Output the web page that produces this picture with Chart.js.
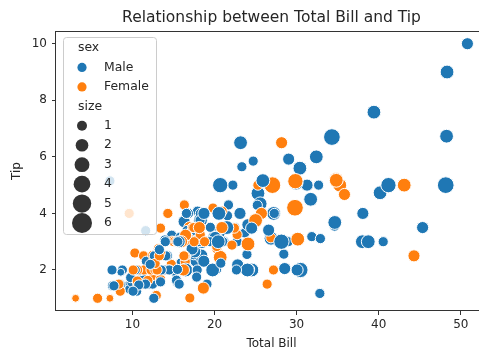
<!DOCTYPE html>
<html>
<head>
<meta charset="utf-8">
<script src="https://cdn.jsdelivr.net/npm/chart.js@4.4.0/dist/chart.umd.min.js"></script>
<style>
  html, body { margin: 0; padding: 0; background: #fff; overflow: hidden; }
  #tipsChart { display: block; }
</style>
</head>
<body>
<canvas id="tipsChart" width="500" height="352"></canvas>
<script>
// restaurant tips: one entry per table
const totalBill = [
  16.99, 10.34, 21.01, 23.68, 24.59, 25.29, 8.77, 26.88, 15.04, 14.78,
  10.27, 35.26, 15.42, 18.43, 14.83, 21.58, 10.33, 16.29, 16.97, 20.65,
  17.92, 20.29, 15.77, 39.42, 19.82, 17.81, 13.37, 12.69, 21.7, 19.65,
  9.55, 18.35, 15.06, 20.69, 17.78, 24.06, 16.31, 16.93, 18.69, 31.27,
  16.04, 17.46, 13.94, 9.68, 30.4, 18.29, 22.23, 32.4, 28.55, 18.04,
  12.54, 10.29, 34.81, 9.94, 25.56, 19.49, 38.01, 26.41, 11.24, 48.27,
  20.29, 13.81, 11.02, 18.29, 17.59, 20.08, 16.45, 3.07, 20.23, 15.01,
  12.02, 17.07, 26.86, 25.28, 14.73, 10.51, 17.92, 27.2, 22.76, 17.29,
  19.44, 16.66, 10.07, 32.68, 15.98, 34.83, 13.03, 18.28, 24.71, 21.16,
  28.97, 22.49, 5.75, 16.32, 22.75, 40.17, 27.28, 12.03, 21.01, 12.46,
  11.35, 15.38, 44.3, 22.42, 20.92, 15.36, 20.49, 25.21, 18.24, 14.31,
  14.0, 7.25, 38.07, 23.95, 25.71, 17.31, 29.93, 10.65, 12.43, 24.08,
  11.69, 13.42, 14.26, 15.95, 12.48, 29.8, 8.52, 14.52, 11.38, 22.82,
  19.08, 20.27, 11.17, 12.26, 18.26, 8.51, 10.33, 14.15, 16.0, 13.16,
  17.47, 34.3, 41.19, 27.05, 16.43, 8.35, 18.64, 11.87, 9.78, 7.51,
  14.07, 13.13, 17.26, 24.55, 19.77, 29.85, 48.17, 25.0, 13.39, 16.49,
  21.5, 12.66, 16.21, 13.81, 17.51, 24.52, 20.76, 31.71, 10.59, 10.63,
  50.81, 15.81, 7.25, 31.85, 16.82, 32.9, 17.89, 14.48, 9.6, 34.63,
  34.65, 23.33, 45.35, 23.17, 40.55, 20.69, 20.9, 30.46, 18.15, 23.1,
  15.69, 19.81, 28.44, 15.48, 16.58, 7.56, 10.34, 43.11, 13.0, 13.51,
  18.71, 12.74, 13.0, 16.4, 20.53, 16.47, 26.59, 38.73, 24.27, 12.76,
  30.06, 25.89, 48.33, 13.27, 28.17, 12.9, 28.15, 11.59, 7.74, 30.14,
  12.16, 13.42, 8.58, 15.98, 13.42, 16.27, 10.09, 20.45, 13.28, 22.12,
  24.01, 15.69, 11.61, 10.77, 15.53, 10.07, 12.6, 32.83, 35.83, 29.03,
  27.18, 22.67, 17.82, 18.78
];

const tip = [
  1.01, 1.66, 3.5, 3.31, 3.61, 4.71, 2.0, 3.12, 1.96, 3.23,
  1.71, 5.0, 1.57, 3.0, 3.02, 3.92, 1.67, 3.71, 3.5, 3.35,
  4.08, 2.75, 2.23, 7.58, 3.18, 2.34, 2.0, 2.0, 4.3, 3.0,
  1.45, 2.5, 3.0, 2.45, 3.27, 3.6, 2.0, 3.07, 2.31, 5.0,
  2.24, 2.54, 3.06, 1.32, 5.6, 3.0, 5.0, 6.0, 2.05, 3.0,
  2.5, 2.6, 5.2, 1.56, 4.34, 3.51, 3.0, 1.5, 1.76, 6.73,
  3.21, 2.0, 1.98, 3.76, 2.64, 3.15, 2.47, 1.0, 2.01, 2.09,
  1.97, 3.0, 3.14, 5.0, 2.2, 1.25, 3.08, 4.0, 3.0, 2.71,
  3.0, 3.4, 1.83, 5.0, 2.03, 5.17, 2.0, 4.0, 5.85, 3.0,
  3.0, 3.5, 1.0, 4.3, 3.25, 4.73, 4.0, 1.5, 3.0, 1.5,
  2.5, 3.0, 2.5, 3.48, 4.08, 1.64, 4.06, 4.29, 3.76, 4.0,
  3.0, 1.0, 4.0, 2.55, 4.0, 3.5, 5.07, 1.5, 1.8, 2.92,
  2.31, 1.68, 2.5, 2.0, 2.52, 4.2, 1.48, 2.0, 2.0, 2.18,
  1.5, 2.83, 1.5, 2.0, 3.25, 1.25, 2.0, 2.0, 2.0, 2.75,
  3.5, 6.7, 5.0, 5.0, 2.3, 1.5, 1.36, 1.63, 1.73, 2.0,
  2.5, 2.0, 2.74, 2.0, 2.0, 5.14, 5.0, 3.75, 2.61, 2.0,
  3.5, 2.5, 2.0, 2.0, 3.0, 3.48, 2.24, 4.5, 1.61, 2.0,
  10.0, 3.16, 5.15, 3.18, 4.0, 3.11, 2.0, 2.0, 4.0, 3.55,
  3.68, 5.65, 3.5, 6.5, 3.0, 5.0, 3.5, 2.0, 3.5, 4.0,
  1.5, 4.19, 2.56, 2.02, 4.0, 1.44, 2.0, 5.0, 2.0, 2.0,
  4.0, 2.01, 2.0, 2.5, 4.0, 3.23, 3.41, 3.0, 2.03, 2.23,
  2.0, 5.16, 9.0, 2.5, 6.5, 1.1, 3.0, 1.5, 1.44, 3.09,
  2.2, 3.48, 1.92, 3.0, 1.58, 2.5, 2.0, 3.0, 2.72, 2.88,
  2.0, 3.0, 3.39, 1.47, 3.0, 1.25, 1.0, 1.17, 4.67, 5.92,
  2.0, 2.0, 1.75, 3.0
];

// M = Male, F = Female
const sex = (
  'FMMMFMMMMM' + 'MFMMFMFMFM' + 'MFFMMMMMMF' + 'MMFFMMMFMM' + 'MMMMMMMMMM' +
  'MFFMMMMFMM' + 'MMMMMMFFMM' + 'MFFFFMMMMM' + 'MMFMMFMMMM' + 'MMFFFMMMMM' +
  'FFFFFMMMMF' + 'MFMMFFMFFF' + 'MFMMFFMFFM' + 'MFFFFFFFMF' + 'FMMFFFFFMM' +
  'MMMMMFMFFM' + 'MMFMFMMMFF' + 'MMMMMMMMFM' + 'MMMMMMFMFM' + 'MFMMMMMFFM' +
  'MFFFMFMMMF' + 'MMMFFFMMMF' + 'MFMFMFFMMF' + 'MMMMMMMMFM' + 'FMMF'
).split('');

const partySize = [
  2, 3, 3, 2, 4, 4, 2, 4, 2, 2,
  2, 4, 2, 4, 2, 2, 3, 3, 3, 3,
  2, 2, 2, 4, 2, 4, 2, 2, 2, 2,
  2, 4, 2, 4, 2, 3, 3, 3, 3, 3,
  3, 2, 2, 2, 4, 2, 2, 4, 3, 2,
  2, 2, 4, 2, 4, 2, 4, 2, 2, 4,
  2, 2, 2, 4, 3, 3, 2, 1, 2, 2,
  2, 3, 2, 2, 2, 2, 2, 4, 2, 2,
  2, 2, 1, 2, 2, 4, 2, 2, 2, 2,
  2, 2, 2, 2, 2, 4, 2, 2, 2, 2,
  2, 2, 3, 2, 2, 2, 2, 2, 2, 2,
  2, 1, 3, 2, 3, 2, 4, 2, 2, 4,
  2, 2, 2, 2, 2, 6, 2, 2, 2, 3,
  2, 2, 2, 2, 2, 2, 2, 2, 2, 2,
  2, 6, 5, 6, 2, 2, 3, 2, 2, 2,
  2, 2, 3, 4, 4, 5, 6, 4, 2, 4,
  4, 2, 3, 2, 2, 3, 2, 4, 2, 2,
  3, 2, 2, 2, 2, 2, 2, 2, 2, 2,
  4, 2, 3, 4, 2, 5, 3, 5, 3, 3,
  2, 2, 2, 2, 2, 2, 2, 4, 2, 2,
  3, 2, 2, 2, 4, 3, 3, 4, 2, 2,
  3, 4, 4, 2, 3, 2, 5, 2, 2, 4,
  2, 2, 1, 3, 2, 2, 2, 4, 2, 2,
  4, 3, 2, 2, 2, 2, 2, 2, 3, 3,
  2, 2, 2, 2
];

const sexCodes = ['M', 'F'];
const sexLabels = ['Male', 'Female'];
const sizeLevels = [1, 2, 3, 4, 5, 6];
const xTicks = [10, 20, 30, 40, 50];
const yTicks = [2, 4, 6, 8, 10];

const chartTitle = 'Relationship between Total Bill and Tip';
const xLabel = 'Total Bill';
const yLabel = 'Tip';

const sexColors = { M: '#1f77b4', F: '#ff7f0e' };
const FONT = '"DejaVu Sans", "Liberation Sans", sans-serif';
const TEXT = '#262626';

// seaborn-style size mapping: marker area grows linearly with party size
function markerDiameter(size, largest) {
  const lo = Math.min(...sizeLevels), hi = Math.max(...sizeLevels);
  const area = 18 + 54 * (size - lo) / (hi - lo);
  return largest * Math.sqrt(area / 72);
}

// pad the data range by 5% on each side
function paddedRange(values) {
  const lo = Math.min(...values), hi = Math.max(...values);
  const m = (hi - lo) * 0.05;
  return [lo - m, hi + m];
}
const [xMin, xMax] = paddedRange(totalBill);
const [yMin, yMax] = paddedRange(tip);

const points = totalBill.map((x, i) => ({ x: x, y: tip[i] }));

const axesFrame = {
  id: 'axesFrame',
  afterDraw(chart) {
    const { ctx, chartArea: a } = chart;
    ctx.save();
    ctx.strokeStyle = '#333';
    ctx.lineWidth = 1;
    ctx.strokeRect(Math.round(a.left) - 0.5, Math.round(a.top) + 0.5,
      Math.round(a.right - a.left) + 1, Math.round(a.bottom - a.top) - 1);
    ctx.restore();
  }
};

function roundedBox(ctx, x, y, w, h, r) {
  ctx.beginPath();
  ctx.moveTo(x + r, y);
  ctx.arcTo(x + w, y, x + w, y + h, r);
  ctx.arcTo(x + w, y + h, x, y + h, r);
  ctx.arcTo(x, y + h, x, y, r);
  ctx.arcTo(x, y, x + w, y, r);
  ctx.closePath();
}

// title centred over the axes plus the two-part legend (hue + size)
const titleAndLegend = {
  id: 'titleAndLegend',
  afterDraw(chart) {
    const { ctx, chartArea: a } = chart;
    ctx.save();
    ctx.fillStyle = TEXT;
    ctx.font = '15.5px ' + FONT;
    ctx.textAlign = 'center';
    ctx.textBaseline = 'middle';
    ctx.fillText(chartTitle, (a.left + a.right) / 2, 18);

    const bx = a.left + 7, by = a.top + 6, bw = 93, bh = 197;
    roundedBox(ctx, bx + 0.5, by + 0.5, bw, bh, 3);
    ctx.fillStyle = 'rgba(255,255,255,0.8)';
    ctx.fill();
    ctx.strokeStyle = '#cccccc';
    ctx.lineWidth = 1;
    ctx.stroke();

    const rowY = i => by + 11 + i * 19.45;
    const markerX = bx + 19, labelX = bx + 41, headX = bx + 15;
    ctx.font = '12.4px ' + FONT;
    ctx.textAlign = 'left';
    ctx.textBaseline = 'middle';

    ctx.fillStyle = TEXT;
    ctx.fillText('sex', headX, rowY(0));
    sexCodes.forEach((code, i) => {
      const y = rowY(1 + i);
      ctx.beginPath();
      ctx.arc(markerX, y, 4.6, 0, Math.PI * 2);
      ctx.fillStyle = sexColors[code];
      ctx.fill();
      ctx.fillStyle = TEXT;
      ctx.fillText(sexLabels[i], labelX, y);
    });

    ctx.fillText('size', headX, rowY(3));
    sizeLevels.forEach((s, i) => {
      const y = rowY(4 + i);
      ctx.beginPath();
      ctx.arc(markerX, y, markerDiameter(s, 20) / 2, 0, Math.PI * 2);
      ctx.fillStyle = '#333333';
      ctx.fill();
      ctx.fillStyle = TEXT;
      ctx.fillText(String(s), labelX, y);
    });
    ctx.restore();
  }
};

const tickFont = { family: FONT, size: 12 };

new Chart(document.getElementById('tipsChart').getContext('2d'), {
  type: 'scatter',
  data: {
    datasets: [{
      data: points,
      backgroundColor: c => sexColors[sex[c.dataIndex]],
      pointBorderColor: '#ffffff',
      pointBorderWidth: 1,
      pointRadius: c => (markerDiameter(partySize[c.dataIndex], 17.7) - 1) / 2,
      pointHoverRadius: c => (markerDiameter(partySize[c.dataIndex], 17.7) - 1) / 2
    }]
  },
  options: {
    responsive: false,
    animation: false,
    events: [],
    layout: { padding: { top: 31, right: 13, left: 0, bottom: 0 } },
    plugins: {
      legend: { display: false },
      tooltip: { enabled: false },
      title: { display: false }
    },
    scales: {
      x: {
        type: 'linear',
        min: xMin,
        max: xMax,
        afterBuildTicks: s => { s.ticks = xTicks.map(v => ({ value: v })); },
        afterFit: s => { s.height = 41; },
        ticks: { font: tickFont, color: TEXT, padding: 3, maxRotation: 0 },
        grid: { display: true, drawOnChartArea: false, drawTicks: true, tickLength: 4, tickColor: '#333' },
        border: { display: false },
        title: { display: true, text: xLabel, font: tickFont, color: TEXT, padding: { top: 0, bottom: 1 } }
      },
      y: {
        type: 'linear',
        min: yMin,
        max: yMax,
        afterBuildTicks: s => { s.ticks = yTicks.map(v => ({ value: v })); },
        afterFit: s => { s.width = 56; },
        ticks: { font: tickFont, color: TEXT, padding: 5 },
        grid: { display: true, drawOnChartArea: false, drawTicks: true, tickLength: 4, tickColor: '#333' },
        border: { display: false },
        title: { display: true, text: yLabel, font: tickFont, color: TEXT, padding: { top: 10, bottom: 0 } }
      }
    }
  },
  plugins: [axesFrame, titleAndLegend]
});
</script>
</body>
</html>
